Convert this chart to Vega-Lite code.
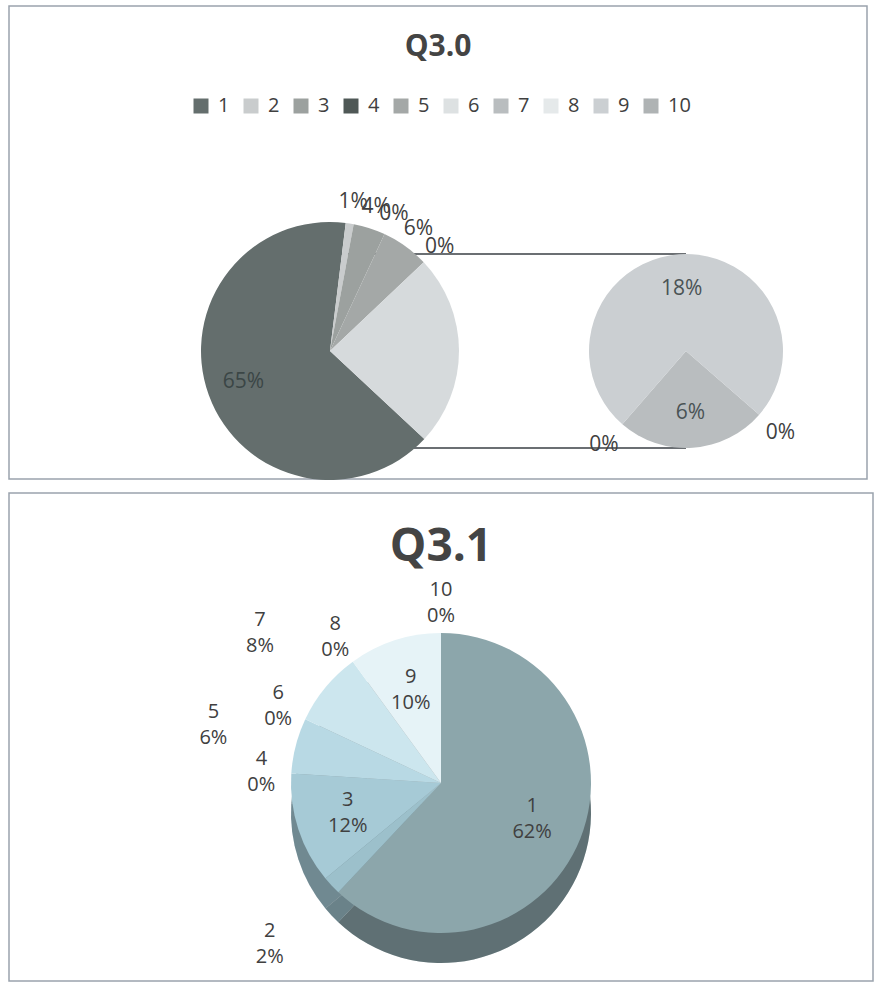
{
  "$schema": "https://vega.github.io/schema/vega-lite/v6.json",
  "padding": {"left": 8, "top": 5, "right": 0, "bottom": 0},
  "background": "white",
  "spacing": 5,
  "config": {
    "font": "Open Sans",
    "view": {"stroke": "#9aa3ad", "strokeWidth": 1.5},
    "axis": {"disable": true}
  },
  "resolve": {
    "scale": {"color": "independent", "x": "independent", "y": "independent", "theta": "independent"},
    "legend": {"color": "independent"}
  },
  "vconcat": [
    {
      "width": 858,
      "height": 473,
      "title": {"text": "Q3.0", "fontSize": 30, "fontWeight": "bold", "color": "#444444", "anchor": "middle", "offset": -80, "baseline": "alphabetic"},
      "layer": [
        {
          "data": {"values": [
            {"pie": "main", "edge": "top"},
            {"pie": "sub", "edge": "top"},
            {"pie": "main", "edge": "bottom"},
            {"pie": "sub", "edge": "bottom"}
          ]},
          "mark": {"type": "line", "color": "#3a3f44", "strokeWidth": 1.6},
          "encoding": {
            "x": {"field": "pie", "type": "nominal", "scale": {"type": "point", "domain": ["main", "sub"], "range": [321, 677], "padding": 0}, "axis": null},
            "y": {"field": "edge", "type": "nominal", "scale": {"type": "point", "domain": ["top", "center", "bottom"], "range": [248, 442], "padding": 0}, "axis": null},
            "detail": {"field": "edge"}
          }
        },
        {
          "data": {"values": [
            {"k": "1", "n": 1, "v": 0.65},
            {"k": "2", "n": 2, "v": 0.01},
            {"k": "3", "n": 3, "v": 0.04},
            {"k": "4", "n": 4, "v": 0},
            {"k": "5", "n": 5, "v": 0.06},
            {"k": "6", "n": 6, "v": 0},
            {"k": "Other", "n": 11, "v": 0.24}
          ]},
          "encoding": {
            "theta": {"field": "v", "type": "quantitative", "stack": true, "scale": {"range": [2.3213, 8.6045]}},
            "order": {"field": "n", "type": "quantitative"},
            "detail": {"field": "k"},
            "x": {"datum": "main", "type": "nominal", "axis": null},
            "y": {"datum": "center", "type": "nominal", "axis": null}
          },
          "layer": [
            {
              "mark": {"type": "arc", "radius": 129},
              "encoding": {
                "color": {
                  "field": "k", "type": "nominal",
                  "scale": {
                    "domain": ["1", "2", "3", "4", "5", "6", "7", "8", "9", "10", "Other"],
                    "range": ["#646e6d", "#c9cccd", "#9ca19f", "#4f5856", "#a4a8a7", "#dde1e2", "#b9bdbf", "#e5e9ea", "#cbcfd2", "#afb3b4", "#d6dadc"]
                  },
                  "legend": {
                    "orient": "none", "legendX": 182, "legendY": 90, "direction": "horizontal", "title": null,
                    "values": ["1", "2", "3", "4", "5", "6", "7", "8", "9", "10"],
                    "symbolType": "square", "symbolSize": 225, "symbolStrokeWidth": 0, "symbolOpacity": 1,
                    "labelFontSize": 20, "labelColor": "#404040", "labelOffset": 7, "columnPadding": 11, "padding": 0
                  }
                }
              }
            },
            {
              "mark": {"type": "text", "radius": 92, "fontSize": 21, "fill": "#3b4646"},
              "encoding": {"text": {"condition": {"test": "datum.k === '1'", "field": "v", "type": "quantitative", "format": ".0%"}, "value": ""}}
            },
            {
              "mark": {"type": "text", "radius": 151, "fontSize": 21, "fill": "#404040"},
              "encoding": {"text": {"condition": {"test": "datum.k !== '1' && datum.k !== 'Other'", "field": "v", "type": "quantitative", "format": ".0%"}, "value": ""}}
            }
          ]
        },
        {
          "data": {"values": [
            {"k": "7", "n": 7, "v": 0.06},
            {"k": "8", "n": 8, "v": 0},
            {"k": "9", "n": 9, "v": 0.18},
            {"k": "10", "n": 10, "v": 0}
          ]},
          "encoding": {
            "theta": {"field": "v", "type": "quantitative", "stack": true, "scale": {"range": [2.2864, 8.5696]}},
            "order": {"field": "n", "type": "quantitative"},
            "detail": {"field": "k"},
            "x": {"datum": "sub", "type": "nominal", "axis": null},
            "y": {"datum": "center", "type": "nominal", "axis": null}
          },
          "layer": [
            {
              "mark": {"type": "arc", "radius": 97},
              "encoding": {
                "color": {
                  "field": "k", "type": "nominal",
                  "scale": {
                    "domain": ["1", "2", "3", "4", "5", "6", "7", "8", "9", "10", "Other"],
                    "range": ["#646e6d", "#c9cccd", "#9ca19f", "#4f5856", "#a4a8a7", "#dde1e2", "#b9bdbf", "#e5e9ea", "#cbcfd2", "#afb3b4", "#d6dadc"]
                  },
                  "legend": {
                    "orient": "none", "legendX": 182, "legendY": 90, "direction": "horizontal", "title": null,
                    "values": ["1", "2", "3", "4", "5", "6", "7", "8", "9", "10"],
                    "symbolType": "square", "symbolSize": 225, "symbolStrokeWidth": 0, "symbolOpacity": 1,
                    "labelFontSize": 20, "labelColor": "#404040", "labelOffset": 7, "columnPadding": 11, "padding": 0
                  }
                }
              }
            },
            {
              "mark": {"type": "text", "radius": 62, "fontSize": 21, "fill": "#4a5355"},
              "encoding": {"text": {"condition": {"test": "datum.v > 0", "field": "v", "type": "quantitative", "format": ".0%"}, "value": ""}}
            },
            {
              "mark": {"type": "text", "radius": 125, "fontSize": 21, "fill": "#404040"},
              "encoding": {"text": {"condition": {"test": "datum.v === 0", "field": "v", "type": "quantitative", "format": ".0%"}, "value": ""}}
            }
          ]
        }
      ],
      "resolve": {"scale": {"theta": "independent"}}
    },
    {
      "width": 864,
      "height": 488,
      "title": {"text": "Q3.1", "fontSize": 46, "fontWeight": "bold", "color": "#444444", "anchor": "middle", "offset": -114, "baseline": "alphabetic"},
      "data": {"values": [
        {"k": "1", "n": 1, "v": 0.62},
        {"k": "2", "n": 2, "v": 0.02},
        {"k": "3", "n": 3, "v": 0.12},
        {"k": "4", "n": 4, "v": 0},
        {"k": "5", "n": 5, "v": 0.06},
        {"k": "6", "n": 6, "v": 0},
        {"k": "7", "n": 7, "v": 0.08},
        {"k": "8", "n": 8, "v": 0},
        {"k": "9", "n": 9, "v": 0.10},
        {"k": "10", "n": 10, "v": 0}
      ]},
      "encoding": {
        "theta": {"field": "v", "type": "quantitative", "stack": true, "scale": {"range": [0, 6.2832]}},
        "order": {"field": "n", "type": "quantitative"},
        "detail": {"field": "k"}
      },
      "layer": [
        {
          "mark": {"type": "arc", "radius": 150},
          "encoding": {
            "color": {"field": "k", "type": "nominal", "legend": null,
              "scale": {"domain": ["1", "2", "3", "4", "5", "6", "7", "8", "9", "10"],
                "range": ["#8ca6ab", "#9cc0cb", "#a6cad6", "#b0d3de", "#b8d9e4", "#c4e0ea", "#cce6ee", "#d9edf3", "#e6f3f7", "#eef7fa"]}},
            "y": {"datum": "side", "type": "nominal", "scale": {"type": "point", "domain": ["top", "side"], "range": [290, 320], "padding": 0}, "axis": null}
          }
        },
        {
          "mark": {"type": "arc", "radius": 150, "fill": "#000000", "opacity": 0.32},
          "encoding": {"y": {"datum": "side", "type": "nominal", "axis": null}}
        },
        {
          "mark": {"type": "arc", "radius": 150},
          "encoding": {
            "color": {"field": "k", "type": "nominal", "legend": null},
            "y": {"datum": "top", "type": "nominal", "axis": null}
          }
        },
        {
          "mark": {"type": "text", "radius": 98, "dy": -13, "fontSize": 20, "fill": "#404040"},
          "encoding": {"y": {"datum": "top", "type": "nominal", "axis": null},
            "text": {"condition": {"test": "indexof(['1','3','9'], datum.k) >= 0", "field": "k", "type": "nominal"}, "value": ""}}
        },
        {
          "mark": {"type": "text", "radius": 98, "dy": 13, "fontSize": 20, "fill": "#404040"},
          "encoding": {"y": {"datum": "top", "type": "nominal", "axis": null},
            "text": {"condition": {"test": "indexof(['1','3','9'], datum.k) >= 0", "field": "v", "type": "quantitative", "format": ".0%"}, "value": ""}}
        },
        {
          "mark": {"type": "text", "radius": 180, "dy": -13, "fontSize": 20, "fill": "#404040"},
          "encoding": {"y": {"datum": "top", "type": "nominal", "axis": null},
            "text": {"condition": {"test": "indexof(['4','6','8','10'], datum.k) >= 0", "field": "k", "type": "nominal"}, "value": ""}}
        },
        {
          "mark": {"type": "text", "radius": 180, "dy": 13, "fontSize": 20, "fill": "#404040"},
          "encoding": {"y": {"datum": "top", "type": "nominal", "axis": null},
            "text": {"condition": {"test": "indexof(['4','6','8','10'], datum.k) >= 0", "field": "v", "type": "quantitative", "format": ".0%"}, "value": ""}}
        },
        {
          "mark": {"type": "text", "radius": 235, "dy": -13, "fontSize": 20, "fill": "#404040"},
          "encoding": {"y": {"datum": "top", "type": "nominal", "axis": null},
            "text": {"condition": {"test": "indexof(['2','5','7'], datum.k) >= 0", "field": "k", "type": "nominal"}, "value": ""}}
        },
        {
          "mark": {"type": "text", "radius": 235, "dy": 13, "fontSize": 20, "fill": "#404040"},
          "encoding": {"y": {"datum": "top", "type": "nominal", "axis": null},
            "text": {"condition": {"test": "indexof(['2','5','7'], datum.k) >= 0", "field": "v", "type": "quantitative", "format": ".0%"}, "value": ""}}
        }
      ]
    }
  ]
}
